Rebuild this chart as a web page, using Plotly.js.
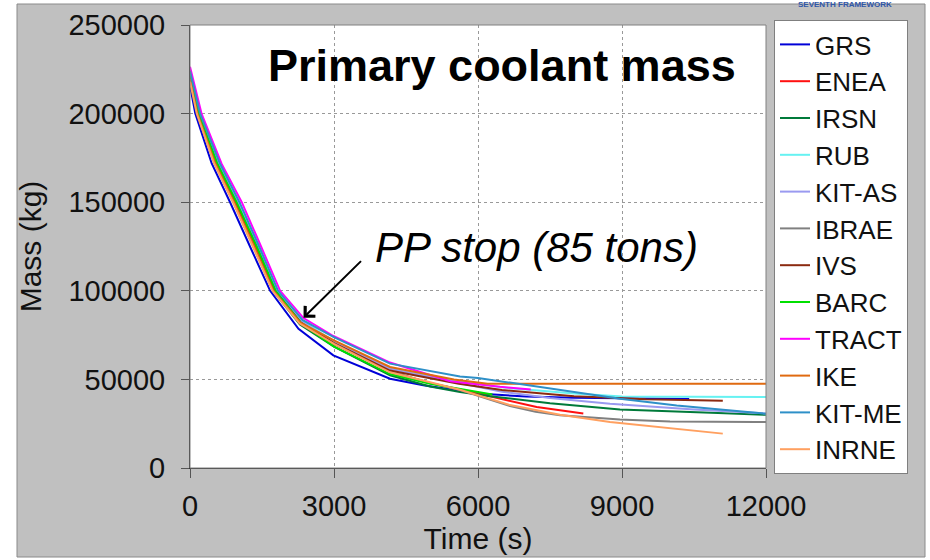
<!DOCTYPE html>
<html>
<head>
<meta charset="utf-8">
<script src="https://cdn.plot.ly/plotly-3.0.1.min.js"></script>
<style>html,body{margin:0;padding:0;background:#fff}#chart{width:930px;height:560px}</style>
</head>
<body>
<div id="chart"></div>
<script>
// ---- data ----
const seriesNames = ['GRS','ENEA','IRSN','RUB','KIT-AS','IBRAE','IVS','BARC','TRACT','IKE','KIT-ME','INRNE'];
const seriesColors = ['#0000d8','#ff1010','#007a3a','#66f2f2','#9a9af0','#808080','#8b2a10','#00e000','#ff00ff','#e06a10','#2e90c8','#ffa060'];

const grsT   = [0,110,450,835,1250,1670,2260,2986,4167,4861,6000,7000,8000,9000,10400];
const grsM   = [216000,200000,172000,150000,125000,100000,78500,63600,50400,46700,42000,40300,39600,39200,38900];
const eneaT  = [0,160,535,930,1350,1750,2300,3000,4167,5000,6000,7222,8194];
const eneaM  = [219000,200000,172000,150000,125000,100000,81500,70000,54500,48000,42000,34400,30800];
const irsnT  = [0,150,510,905,1320,1730,2290,3000,4167,5000,5625,6250,7500,8958,11000,12000];
const irsnM  = [218500,200000,172000,150000,125000,100000,81000,68500,52300,46000,42900,40500,36500,33000,31000,30000];
const rubT   = [0,200,600,1005,1420,1815,2335,3000,4167,5600,6500,8000,9000,12000];
const rubM   = [223000,200000,172000,150000,125000,100000,83000,71500,56500,49000,45500,42000,40300,40000];
const kitasT = [0,185,575,980,1400,1795,2325,3000,4167,5600,6500,7500,8750,10500,12000];
const kitasM = [222000,200000,172000,150000,125000,100000,82500,71000,56000,48000,43000,39500,36300,33000,30800];
const ibraeT = [0,175,555,955,1375,1775,2315,3000,4167,5000,5625,6200,6667,7200,7708,8958,10000,11800,12000];
const ibraeM = [220500,200000,172000,150000,125000,100000,82000,70000,54500,48000,44000,39000,35000,31800,29700,27300,26300,25900,26000];
const ivsT   = [0,170,545,945,1365,1765,2305,3000,4167,5600,6500,8000,9500,11100];
const ivsM   = [220000,200000,172000,150000,125000,100000,82000,70500,55000,47500,44000,40500,38800,38000];
const barcT  = [0,180,565,970,1390,1785,2320,3000,4167,5000,6300];
const barcM  = [221500,200000,172000,150000,125000,100000,81500,68500,53000,47500,41500];
const tractT = [0,240,660,1078,1480,1878,2365,2986,4167,5420,6460,7100];
const tractM = [226500,200000,171600,150000,125000,100000,84600,74500,59500,49000,45800,44300];
const ikeT   = [0,155,525,920,1340,1740,2300,3000,4167,5500,6200,12000];
const ikeM   = [219500,200000,172000,150000,125000,100000,82000,72000,57000,50000,47500,47500];
const kitmeT = [0,210,620,1030,1440,1835,2350,2986,4167,5625,6000,7000,8958,10140,12000];
const kitmeM = [224000,200000,172000,150000,125000,100000,83400,74000,58900,51700,50800,46800,39100,35300,30600];
const inrneT = [0,140,500,895,1310,1720,2285,3000,4167,5000,5625,6667,7708,8750,10000,11100];
const inrneM = [218000,200000,172000,150000,125000,100000,81500,70000,54000,48500,44200,35500,30000,25900,22300,19400];

const xTickVals = [0,3000,6000,9000,12000];
const xTickLabels = ['0','3000','6000','9000','12000'];
const yTickVals = [0,50000,100000,150000,200000,250000];
const yTickLabels = ['0','50000','100000','150000','200000','250000'];

const chartTitle = 'Primary coolant mass';
const noteText = 'PP stop (85 tons)';
const noteT = 2365, noteM = 84800;
const logoText = 'SEVENTH FRAMEWORK';

// ---- build ----
const allT = [grsT,eneaT,irsnT,rubT,kitasT,ibraeT,ivsT,barcT,tractT,ikeT,kitmeT,inrneT];
const allM = [grsM,eneaM,irsnM,rubM,kitasM,ibraeM,ivsM,barcM,tractM,ikeM,kitmeM,inrneM];
const traces = seriesNames.map((n,i)=>({
  type:'scatter', mode:'lines', name:n, x:allT[i], y:allM[i],
  line:{color:seriesColors[i], width:2}
}));

const FONT = 'Arial, "Liberation Sans", sans-serif';
// pixel helpers for paper coords (plot area 190..766 x 25..468)
const px = v => (v-190)/576;
const py = v => (468-v)/443;

const layout = {
  width:930, height:560,
  margin:{l:190, r:164, t:25, b:92, pad:0},
  paper_bgcolor:'#c0c0c0',
  plot_bgcolor:'#ffffff',
  font:{family:FONT, size:29, color:'#111'},
  showlegend:true,
  legend:{
    x:px(774), xanchor:'left', y:py(20), yanchor:'top',
    bgcolor:'#ffffff', bordercolor:'#7f7f7f', borderwidth:1,
    font:{family:FONT, size:26, color:'#111'},
    itemwidth:30, traceorder:'normal', maxheight:520
  },
  xaxis:{
    range:[0,12000], tickvals:xTickVals, ticktext:xTickLabels,
    showgrid:true, gridcolor:'#999', griddash:'dot', gridwidth:1,
    zeroline:false, showline:true, linecolor:'#333', linewidth:1,
    ticks:'outside', ticklen:9, tickcolor:'#555', tickwidth:1,
    ticklabelstandoff:3,
    tickfont:{family:FONT, size:29, color:'#111'},
    title:{text:'Time (s)', font:{family:FONT, size:30, color:'#111'}, standoff:4},
    fixedrange:true
  },
  yaxis:{
    range:[0,250000], tickvals:yTickVals, ticktext:yTickLabels,
    showgrid:true, gridcolor:'#999', griddash:'dot', gridwidth:1,
    zeroline:false, showline:true, linecolor:'#333', linewidth:1,
    ticks:'outside', ticklen:8, tickcolor:'#555', tickwidth:1,
    ticklabelstandoff:10,
    tickfont:{family:FONT, size:29, color:'#111'},
    title:{text:'Mass (kg)', font:{family:FONT, size:30, color:'#111'}, standoff:17},
    fixedrange:true
  },
  shapes:[
    {type:'rect', xref:'paper', yref:'paper', x0:px(0), x1:px(17), y0:py(560), y1:py(0), fillcolor:'#fff', line:{width:0}, layer:'below'},
    {type:'rect', xref:'paper', yref:'paper', x0:px(925), x1:px(930), y0:py(560), y1:py(0), fillcolor:'#fff', line:{width:0}, layer:'below'},
    {type:'rect', xref:'paper', yref:'paper', x0:px(0), x1:px(930), y0:py(4), y1:py(0), fillcolor:'#fff', line:{width:0}, layer:'below'},
    {type:'rect', xref:'paper', yref:'paper', x0:px(0), x1:px(930), y0:py(560), y1:py(557), fillcolor:'#fff', line:{width:0}, layer:'below'},
    {type:'rect', xref:'paper', yref:'paper', x0:px(17), x1:px(925), y0:py(557), y1:py(4), fillcolor:'rgba(0,0,0,0)', line:{color:'#8a8a8a', width:1}, layer:'below'},
    {type:'rect', xref:'paper', yref:'paper', x0:0, x1:1, y0:0, y1:1, fillcolor:'rgba(0,0,0,0)', line:{color:'#808080', width:1}, layer:'above'}
  ],
  annotations:[
    {xref:'paper', yref:'paper', x:px(502), y:py(66), xanchor:'center', yanchor:'middle',
     text:'<b>'+chartTitle+'</b>', showarrow:false, font:{family:FONT, size:45, color:'#000'}},
    {xref:'paper', yref:'paper', x:px(536), y:py(247), xanchor:'center', yanchor:'middle',
     text:'<i>'+noteText+'</i>', showarrow:false, font:{family:FONT, size:42, color:'#000'}},
    {xref:'x', yref:'y', x:noteT, y:noteM, text:' ', showarrow:true,
     ax:63, ay:-62, arrowhead:4, arrowsize:1.4, arrowwidth:2, arrowcolor:'#000', standoff:0},
    {xref:'paper', yref:'paper', x:px(845), y:py(4), xanchor:'center', yanchor:'middle',
     text:'<b>'+logoText+'</b>', showarrow:false, borderpad:0, font:{family:FONT, size:8, color:'#2f56a8'}}
  ]
};

Plotly.newPlot('chart', traces, layout, {displayModeBar:false, staticPlot:true});
</script>
</body>
</html>
